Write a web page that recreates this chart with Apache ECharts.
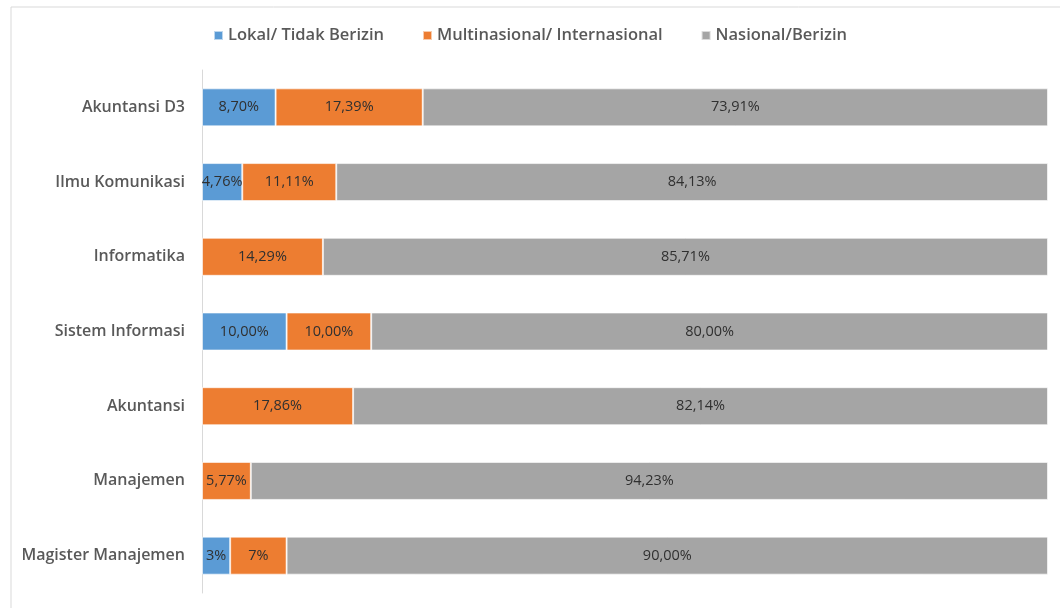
<!DOCTYPE html>
<html>
<head>
<meta charset="utf-8">
<script src="https://cdn.jsdelivr.net/npm/echarts@6/dist/echarts.min.js"></script>
<style>
  html, body { margin: 0; padding: 0; background: #fff; }
  #chart { width: 1060px; height: 608px; }
</style>
</head>
<body>
<div id="chart"></div>
<script>
// kategori (atas ke bawah)
const categories = ['Akuntansi D3', 'Ilmu Komunikasi', 'Informatika', 'Sistem Informasi', 'Akuntansi', 'Manajemen', 'Magister Manajemen'];

const lokal = [8.70, 4.76, 0, 10.00, 0, 0, 3.33];
const multi = [17.39, 11.11, 14.29, 10.00, 17.86, 5.77, 6.67];
const nasional = [73.91, 84.13, 85.71, 80.00, 82.14, 94.23, 90.00];

// teks label seperti di gambar
const lokalLabels = ['8,70%', '4,76%', '', '10,00%', '', '', '3%'];
const multiLabels = ['17,39%', '11,11%', '14,29%', '10,00%', '17,86%', '5,77%', '7%'];
const nasionalLabels = ['73,91%', '84,13%', '85,71%', '80,00%', '82,14%', '94,23%', '90,00%'];

const seriesNames = ['Lokal/ Tidak Berizin', 'Multinasional/ Internasional', 'Nasional/Berizin'];
const colors = ['#5b9bd5', '#ed7d31', '#a5a5a5'];

const chart = echarts.init(document.getElementById('chart'));

function makeSeries(name, values, labels) {
  return {
    name: name,
    type: 'bar',
    stack: 'total',
    barWidth: 38,
    data: values,
    itemStyle: { borderColor: 'rgba(255,255,255,0.6)', borderWidth: 1 },
    label: {
      show: true,
      position: 'inside',
      color: '#303030',
      fontSize: 14.5,
      fontFamily: 'Open Sans',
      formatter: function (p) { return labels[p.dataIndex]; }
    }
  };
}

const option = {
  color: colors,
  animation: false,
  graphic: [{
    type: 'rect',
    shape: { x: 11, y: 7, width: 1060, height: 620 },
    style: { fill: 'none', stroke: '#d9d9d9', lineWidth: 1 },
    silent: true
  }],
  legend: {
    top: 22,
    left: 'center',
    itemWidth: 9,
    itemHeight: 9,
    itemGap: 38,
    icon: 'rect',
    textStyle: { color: '#595959', fontSize: 16.5, fontFamily: 'Open Sans', fontWeight: 600 },
    data: seriesNames
  },
  grid: { left: 202, right: 12, top: 70, bottom: 15, containLabel: false },
  xAxis: {
    type: 'value',
    min: 0,
    max: 100,
    show: false
  },
  yAxis: {
    type: 'category',
    inverse: true,
    data: categories,
    axisLine: { show: true, lineStyle: { color: '#d9d9d9' } },
    axisTick: { show: false },
    axisLabel: {
      color: '#595959',
      fontSize: 16,
      fontFamily: 'Open Sans',
      fontWeight: 600,
      margin: 17
    }
  },
  series: [
    makeSeries(seriesNames[0], lokal, lokalLabels),
    makeSeries(seriesNames[1], multi, multiLabels),
    makeSeries(seriesNames[2], nasional, nasionalLabels)
  ]
};

chart.setOption(option);
</script>
</body>
</html>
